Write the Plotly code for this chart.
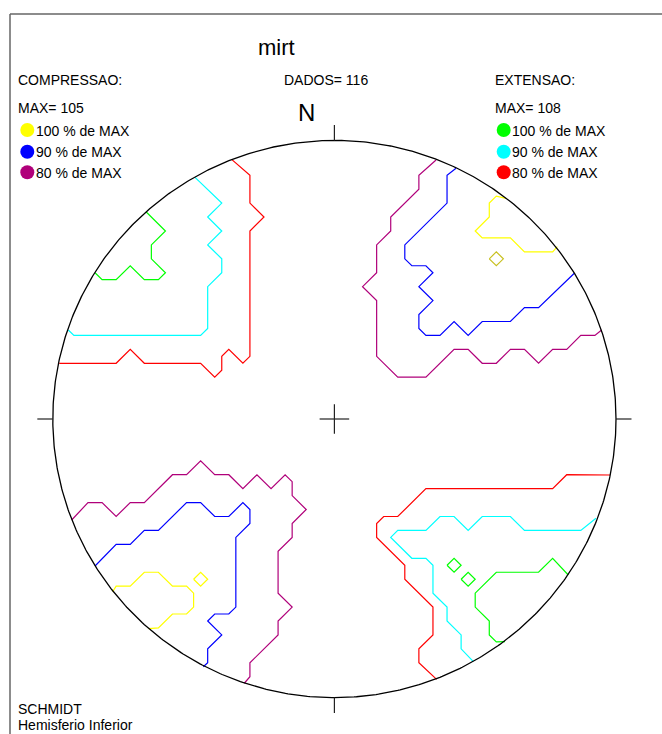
import numpy as np
import plotly.graph_objects as go

# ---- page geometry -------------------------------------------------------
W, H = 662, 734
CX, CY = 334.4, 419.0      # centre of the net on the page (px)
SX, SY = 14.08, 13.93      # px per grid unit along x and y
R = 20                     # net radius in grid units

FONT = "Liberation Sans, Arial, sans-serif"

# ---- header values -------------------------------------------------------
title = "mirt"
n_dados = 116
comp_max = 105
ext_max = 108
levels = [100, 90, 80]                       # % of MAX
comp_colors = ["#ffff00", "#0000ff", "#b0007a"]
ext_colors = ["#00ff00", "#00ffff", "#ff0000"]

# ---- compression contours (grid units, y up) -----------------------------
comp_100 = [
    [(12.19, 15.84), (11.5, 16), (11, 15.5), (11, 14.5), (10, 13.5), (10.5, 13),
     (12.5, 13), (13.5, 12), (15.5, 12), (15.83, 12.37)],
    [(-15.75, -12.4), (-15.5, -12), (-14.5, -12), (-13.5, -11), (-12.5, -11),
     (-11.5, -12), (-10.5, -12), (-10, -12.5), (-10, -13.5), (-10.5, -14),
     (-11.5, -14), (-12.5, -15), (-13.2, -15.05)],
]
comp_100_spots = [(11.5, 11.5), (-9.5, -11.5)]

comp_90 = [
    [(8.64, 18.0), (8, 17.5), (8, 15.5), (5, 12.5), (5, 11.5), (5.5, 11), (6.5, 11),
     (7, 10.5), (6, 9.5), (7, 8.5), (6, 7.5), (6, 6.5), (6.5, 6), (7.5, 6), (8.5, 7),
     (9.5, 6), (10.5, 7), (12.5, 7), (13.5, 8), (14.5, 8), (17.04, 10.46)],
    [(-17.0, -10.55), (-15.5, -9), (-14.5, -9), (-13.5, -8), (-12.5, -8),
     (-10.5, -6), (-9.5, -6), (-8.5, -7), (-7.5, -7), (-6.5, -6), (-6, -6.5),
     (-6, -7.5), (-7, -8.5), (-7, -13.5), (-7.5, -14), (-8.5, -14), (-9, -14.5),
     (-8, -15.5), (-9, -16.5), (-9, -17.5), (-9.31, -17.78)],
]

comp_80 = [
    [(7.22, 18.59), (6, 17.5), (6, 16.5), (4, 14.5), (4, 13.5), (3, 12.5), (3, 10.5),
     (2, 9.5), (3, 8.5), (3, 4.5), (4.5, 3), (6.5, 3), (8.5, 5), (9.5, 5), (10.5, 4),
     (11.5, 4), (12.5, 5), (13.5, 5), (14.5, 4), (15.5, 5), (16.5, 5), (17.5, 6),
     (18.5, 6), (18.98, 6.39)],
    [(-18.66, -7.25), (-17.5, -6), (-16.5, -6), (-15.5, -7), (-14.5, -6),
     (-13.5, -6), (-11.5, -4), (-10.5, -4), (-9.5, -3), (-8.5, -4), (-7.5, -4),
     (-6.5, -5), (-5.5, -4), (-4.5, -5), (-3.5, -4), (-3, -4.5), (-3, -5.5),
     (-2, -6.5), (-3, -7.5), (-3, -8.5), (-4, -9.5), (-4, -12.5), (-3, -13.5),
     (-4, -14.5), (-4, -15.5), (-6, -17.5), (-6, -18.5), (-6.4, -18.97)],
]

# ---- extension contours --------------------------------------------------
ext_100 = [
    [(-13.38, 14.88), (-12, 13.5), (-13, 12.5), (-13, 11.5), (-12, 10.5),
     (-12.5, 10), (-13.5, 10), (-14.5, 11), (-15.5, 10), (-16.5, 10), (-17.0, 10.5)],
    [(16.61, -11.2), (15.5, -10), (14.5, -11), (11.5, -11), (10, -12.5),
     (10, -13.5), (11, -14.5), (11, -15.5), (11.5, -16), (12.12, -15.98)],
]
ext_100_spots = [(8.5, -10.5), (9.5, -11.5)]

ext_90 = [
    [(-9.9, 17.35), (-8, 15.5), (-9, 14.5), (-8, 13.5), (-9, 12.5), (-8, 11.5),
     (-8, 10.5), (-9, 9.5), (-9, 6.5), (-9.5, 6), (-18.5, 6), (-18.9, 6.39)],
    [(18.58, -7.13), (17.5, -8), (13.5, -8), (12.5, -7), (10.5, -7), (9.5, -8),
     (8.5, -7), (7.5, -7), (6.5, -8), (4.5, -8), (4, -8.5), (5.5, -10), (6.5, -10),
     (7, -10.5), (7, -12.5), (8, -13.5), (8, -14.5), (9, -15.5), (9, -16.5),
     (9.87, -17.42)],
]

ext_80 = [
    [(-7.3, 18.64), (-6, 17.5), (-6, 15.5), (-5, 14.5), (-6, 13.5), (-6, 4.5),
     (-6.5, 4), (-7.5, 5), (-8, 4.5), (-8, 3.5), (-8.5, 3), (-9.5, 4), (-13.5, 4),
     (-14.5, 5), (-15.5, 4), (-19.54, 4.0)],
    [(19.57, -4.02), (16.5, -4), (15.5, -5), (6.5, -5), (4.5, -7), (3.5, -7),
     (3, -7.5), (3, -8.5), (5, -10.5), (5, -11.5), (7, -13.5), (7, -15.5),
     (6, -16.5), (6, -17.5), (7.26, -18.69)],
]

SPOT_HALF = 0.5   # half-diagonal of a single-cell maximum


def px_x(p):
    return p / W


def px_y(p):
    return 1 - p / H


fig = go.Figure()


def add_paths(paths, color, width=1.2):
    xs, ys = [], []
    for path in paths:
        xs += [p[0] for p in path] + [None]
        ys += [p[1] for p in path] + [None]
    fig.add_trace(go.Scatter(x=xs, y=ys, mode="lines",
                             line=dict(color=color, width=width),
                             hoverinfo="skip", showlegend=False))


def spots_to_paths(centres):
    out = []
    for cx, cy in centres:
        h = SPOT_HALF
        out.append([(cx - h, cy), (cx, cy + h), (cx + h, cy), (cx, cy - h), (cx - h, cy)])
    return out


add_paths(comp_80, comp_colors[2])
add_paths(comp_90, comp_colors[1])
add_paths(comp_100, comp_colors[0])
add_paths(spots_to_paths(comp_100_spots[:1]), "#c8c020")
add_paths(spots_to_paths(comp_100_spots[1:]), comp_colors[0])
add_paths(ext_80, ext_colors[2])
add_paths(ext_90, ext_colors[1])
add_paths(ext_100, ext_colors[0])
add_paths(spots_to_paths(ext_100_spots), ext_colors[0])

# primitive circle of the net
t = np.linspace(0, 2 * np.pi, 721)
fig.add_trace(go.Scatter(x=R * np.cos(t), y=R * np.sin(t), mode="lines",
                         line=dict(color="black", width=1.3),
                         hoverinfo="skip", showlegend=False))

shapes = []
TICK = 1.1
CROSS = 1.05
line_k = dict(color="#222222", width=1.2)
for x0, y0, x1, y1 in [(0, R, 0, R + TICK), (0, -R, 0, -R - TICK),
                       (-R, 0, -R - TICK, 0), (R, 0, R + TICK, 0),
                       (-CROSS, 0, CROSS, 0), (0, -CROSS, 0, CROSS)]:
    shapes.append(dict(type="line", xref="x", yref="y", x0=x0, y0=y0, x1=x1, y1=y1,
                       line=line_k))

# outer frame
frame = dict(color="#666666", width=1.5)
shapes.append(dict(type="line", xref="paper", yref="paper",
                   x0=px_x(10), y0=px_y(14), x1=1.0, y1=px_y(14), line=frame))
shapes.append(dict(type="line", xref="paper", yref="paper",
                   x0=px_x(10), y0=px_y(14), x1=px_x(10), y1=0.0, line=frame))

annotations = []


def text(s, x, y, size=14, anchor="left"):
    annotations.append(dict(text=s, xref="paper", yref="paper", x=px_x(x), y=px_y(y),
                            xanchor=anchor, yanchor="middle", showarrow=False,
                            font=dict(family=FONT, size=size, color="black")))


def dot(x, y, color, r=7):
    shapes.append(dict(type="circle", xref="paper", yref="paper",
                       x0=px_x(x - r), x1=px_x(x + r), y0=px_y(y + r), y1=px_y(y - r),
                       fillcolor=color, line=dict(width=0)))


text(title, 256, 48, size=22)
text("COMPRESSAO:", 16, 80)
text(f"MAX= {comp_max}", 16, 108)
text(f"DADOS= {n_dados}", 281.5, 80)
text("N", 306, 112, size=24, anchor="center")
text("EXTENSAO:", 493, 80)
text(f"MAX= {ext_max}", 493, 108)

legend_y = [130, 151.7, 172.3]
for lv, yy, cc, ce in zip(levels, legend_y, comp_colors, ext_colors):
    dot(27.3, yy, cc)
    text(f"{lv} % de MAX", 33.5, yy + 0.5)
    dot(503.7, yy, ce)
    text(f"{lv} % de MAX", 510, yy + 0.5)

text("SCHMIDT", 16, 709)
text("Hemisferio Inferior", 16, 725)

fig.update_layout(
    width=W, height=H, autosize=False,
    margin=dict(l=0, r=0, t=0, b=0, pad=0),
    paper_bgcolor="white", plot_bgcolor="white",
    xaxis=dict(range=[-CX / SX, (W - CX) / SX], visible=False, fixedrange=True),
    yaxis=dict(range=[(CY - H) / SY, CY / SY], visible=False, fixedrange=True),
    shapes=shapes, annotations=annotations, showlegend=False,
)

fig.write_html("out.html", config={"displayModeBar": False})
